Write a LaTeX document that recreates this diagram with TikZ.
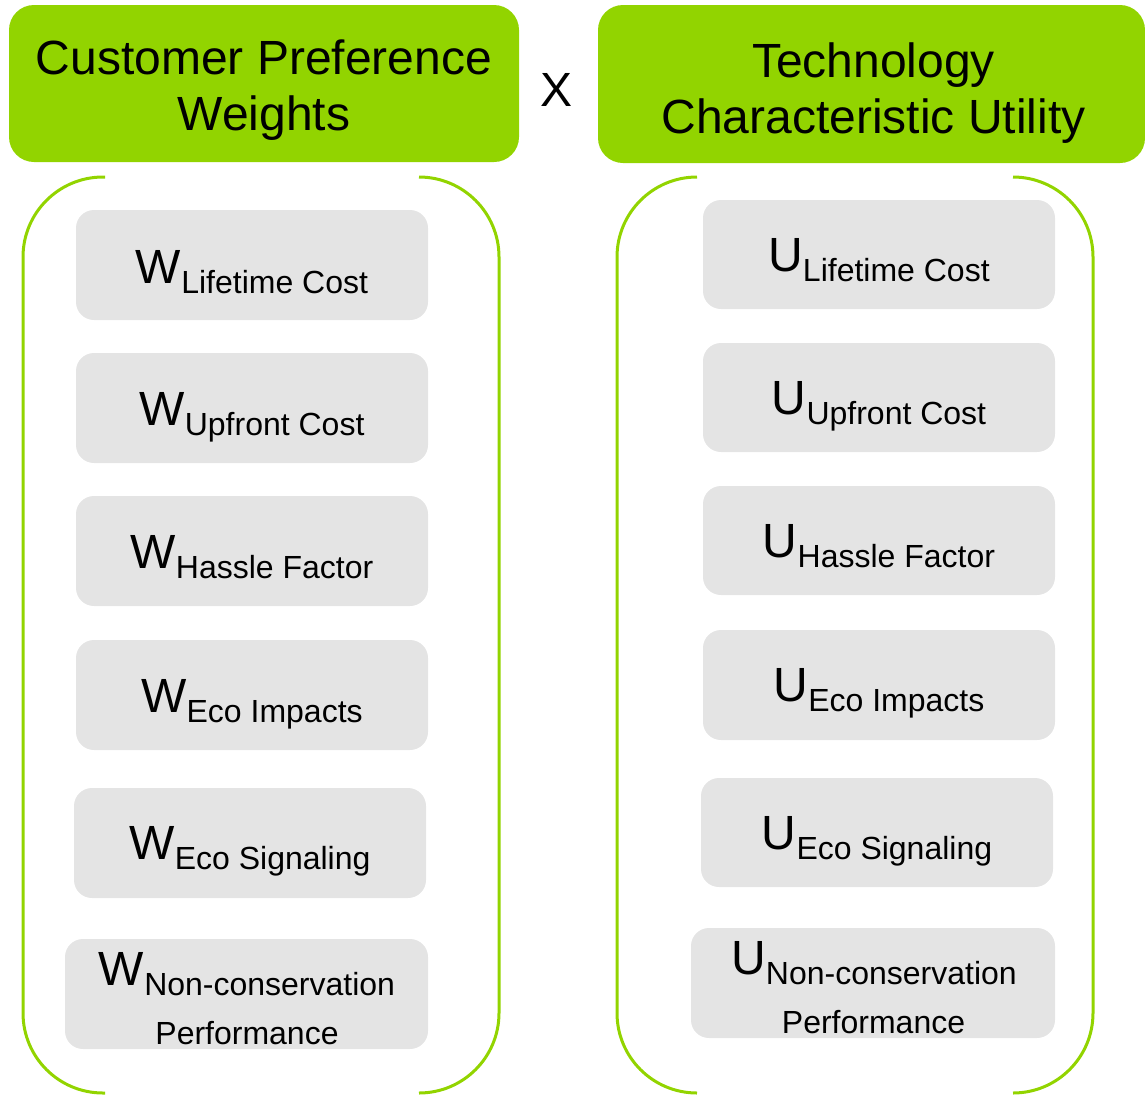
\documentclass[tikz,border=0pt]{standalone}
\usepackage{fontspec}
\setmainfont{Liberation Sans}
\definecolor{leaf}{RGB}{146,212,0}
\definecolor{tile}{RGB}{228,228,228}
% symbol with a lowered, smaller subscript label
\newcommand\tileterm[2]{{\fontsize{48}{50}\selectfont #1}\raisebox{-10pt}{\fontsize{32}{36}\selectfont #2}}
\newcommand\tilesub[1]{{\fontsize{32}{36}\selectfont #1}}

\begin{document}
\begin{tikzpicture}[x=1pt,y=-1pt,
  header/.style={fill=leaf, rounded corners=25pt, inner sep=0pt},
  tilebox/.style={fill=tile, rounded corners=18pt, minimum width=352pt,
    minimum height=110pt, inner sep=0pt},
  headtext/.style={anchor=base, inner sep=0pt, font=\fontsize{48}{57}\selectfont},
  sym/.style={anchor=base, inner sep=0pt},
  brace/.style={draw=leaf, line width=3pt, rounded corners=80pt}
]
\useasboundingbox (0,0) rectangle (1145,1095);

% headers
\node[header, minimum width=510pt, minimum height=157pt] (cpw) at (264,83.5) {};
\node[headtext] (cpw1) at (264,74) {Customer Preference};
\node[headtext] (cpw2) at (264,130) {Weights};
\node[header, minimum width=547pt, minimum height=158pt] (tcu) at (871.5,84) {};
\node[headtext] (tcu1) at (873.5,77) {Technology};
\node[headtext] (tcu2) at (873.5,133) {Characteristic Utility};
\node[headtext] (times) at (556,106) {X};

% brackets around the two columns
\draw[brace] (105,177) -| (23,1093) -- (105,1093);
\draw[brace] (419,177) -| (499,1093) -- (419,1093);
\draw[brace] (697,177) -| (617,1093) -- (697,1093);
\draw[brace] (1013,177) -| (1093,1093) -- (1013,1093);

% weights column
\node[tilebox] (w1) at (252,265) {};
\node[sym] (w1t) at (252,283) {\tileterm{W}{Lifetime Cost}};
\node[tilebox] (w2) at (252,408) {};
\node[sym] (w2t) at (252,425) {\tileterm{W}{Upfront Cost}};
\node[tilebox] (w3) at (252,551) {};
\node[sym] (w3t) at (252,568) {\tileterm{W}{Hassle Factor}};
\node[tilebox] (w4) at (252,695) {};
\node[sym] (w4t) at (252,712) {\tileterm{W}{Eco Impacts}};
\node[tilebox] (w5) at (250,843) {};
\node[sym] (w5t) at (250,859) {\tileterm{W}{Eco Signaling}};
\node[tilebox, minimum width=363pt] (w6) at (246.5,994) {};
\node[sym] (w6t) at (247,985) {\tileterm{W}{Non-conservation}};
\node[sym] (w6p) at (247,1044) {\tilesub{Performance}};

% utility column
\node[tilebox, minimum height=109pt] (u1) at (879,254.5) {};
\node[sym] (u1t) at (879,271) {\tileterm{U}{Lifetime Cost}};
\node[tilebox, minimum height=109pt] (u2) at (879,397.5) {};
\node[sym] (u2t) at (879,414) {\tileterm{U}{Upfront Cost}};
\node[tilebox, minimum height=109pt] (u3) at (879,540.5) {};
\node[sym] (u3t) at (879,557) {\tileterm{U}{Hassle Factor}};
\node[tilebox] (u4) at (879,685) {};
\node[sym] (u4t) at (879,701) {\tileterm{U}{Eco Impacts}};
\node[tilebox, minimum height=109pt] (u5) at (877,832.5) {};
\node[sym] (u5t) at (877,849) {\tileterm{U}{Eco Signaling}};
\node[tilebox, minimum width=364pt] (u6) at (873,983) {};
\node[sym] (u6t) at (874,974) {\tileterm{U}{Non-conservation}};
\node[sym] (u6p) at (873.5,1033) {\tilesub{Performance}};
\end{tikzpicture}
\end{document}
